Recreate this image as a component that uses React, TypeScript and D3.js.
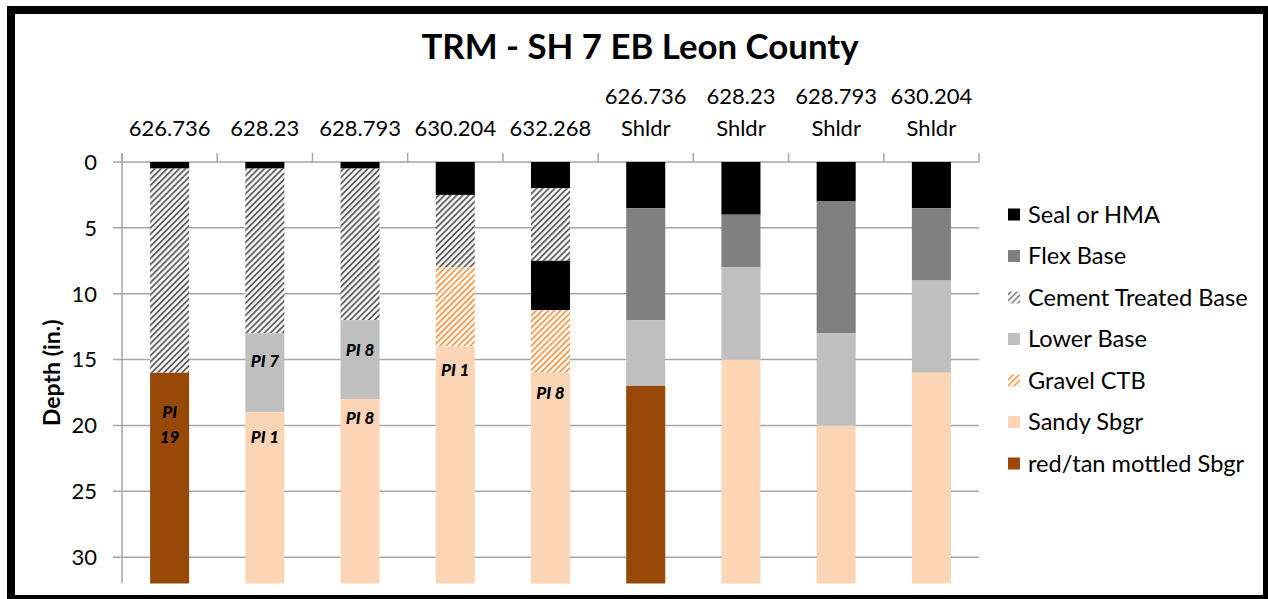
import React from "react";
import * as d3 from "d3";

// ---- data (depths in inches, thickness per layer, stacked from the surface down) ----
const categories = [
  "626.736",
  "628.23",
  "628.793",
  "630.204",
  "632.268",
  "626.736 Shldr",
  "628.23 Shldr",
  "628.793 Shldr",
  "630.204 Shldr",
];

const sealOrHMA = [0.5, 0.5, 0.5, 2.5, 2, 3.5, 4, 3, 3.5];
const flexBase = [0, 0, 0, 0, 0, 8.5, 4, 10, 5.5];
const cementTreatedBase = [15.5, 12.5, 11.5, 5.5, 5.5, 0, 0, 0, 0];
const sealOrHMA2 = [0, 0, 0, 0, 3.75, 0, 0, 0, 0];
const lowerBase = [0, 6, 6, 0, 0, 5, 7, 7, 7];
const gravelCTB = [0, 0, 0, 6, 4.75, 0, 0, 0, 0];
const sandySbgr = [0, 13, 14, 18, 16, 0, 17, 12, 16];
const redTanSbgr = [16, 0, 0, 0, 0, 15, 0, 0, 0];

const yTicks = [0, 5, 10, 15, 20, 25, 30];
const yMax = 32;

const legendNames = [
  "Seal or HMA",
  "Flex Base",
  "Cement Treated Base",
  "Lower Base",
  "Gravel CTB",
  "Sandy Sbgr",
  "red/tan mottled Sbgr",
];

// PI labels: category, text, depth (in.) of the text centre
const piCats = ["626.736", "626.736", "628.23", "628.23", "628.793", "628.793", "630.204", "632.268"];
const piTexts = ["PI", "19", "PI 7", "PI 1", "PI 8", "PI 8", "PI 1", "PI 8"];
const piDepths = [19.0, 20.85, 15.1, 20.85, 14.3, 19.45, 15.8, 17.5];

// ---- styles ----
const seriesKeys = ["seal", "flex", "ctb", "seal2", "lower", "gravel", "sandy", "redtan"];
const fills: Record<string, string> = {
  seal: "#000000",
  flex: "#808080",
  ctb: "url(#hatchGray)",
  seal2: "#000000",
  lower: "#bfbfbf",
  gravel: "url(#hatchOrange)",
  sandy: "#fbd5b5",
  redtan: "#984807",
};
const legendFills = [fills.seal, fills.flex, "url(#hatchGrayL)", fills.lower, "url(#hatchOrangeL)", fills.sandy, fills.redtan];

const FONT = "Lato, 'Open Sans', sans-serif";

export default function App() {
  const W = 1268;
  const H = 599;
  const plotLeft = 122;
  const plotRight = 979;
  const plotTop = 162;

  const x = d3
    .scaleBand<string>()
    .domain(categories)
    .range([plotLeft, plotRight])
    .paddingInner(0.59)
    .paddingOuter(0.295);
  const y = d3.scaleLinear().domain([0, yMax]).range([plotTop, 583.5]);
  const step = x.step();

  const rows = categories.map((c, i) => ({
    cat: c,
    seal: sealOrHMA[i],
    flex: flexBase[i],
    ctb: cementTreatedBase[i],
    seal2: sealOrHMA2[i],
    lower: lowerBase[i],
    gravel: gravelCTB[i],
    sandy: sandySbgr[i],
    redtan: redTanSbgr[i],
  }));
  const stacked = d3.stack<any>().keys(seriesKeys)(rows);

  const boundaries = d3.range(categories.length + 1).map((k) => plotLeft + k * step);

  const legendX = 1008;
  const legendY0 = 214.5;
  const legendDy = 41.5;

  return (
    <svg
      width={W}
      height={H}
      style={{ position: "absolute", left: 0, top: 0, background: "#fff" }}
      fontFamily={FONT}
    >
      <defs>
        <pattern id="hatchGray" width="4.3" height="4.3" patternUnits="userSpaceOnUse" patternTransform="rotate(45)">
          <rect width="4.3" height="4.3" fill="#fff" />
          <line x1="1" y1="0" x2="1" y2="4.3" stroke="#595959" strokeWidth="1.8" />
        </pattern>
        <pattern id="hatchOrange" width="4.3" height="4.3" patternUnits="userSpaceOnUse" patternTransform="rotate(45)">
          <rect width="4.3" height="4.3" fill="#fff" />
          <line x1="1" y1="0" x2="1" y2="4.3" stroke="#f79646" strokeWidth="1.8" />
        </pattern>
        <pattern id="hatchGrayL" width="4.3" height="4.3" patternUnits="userSpaceOnUse" patternTransform="rotate(45)">
          <rect width="4.3" height="4.3" fill="#fff" />
          <line x1="1" y1="0" x2="1" y2="4.3" stroke="#7f7f7f" strokeWidth="1.6" />
        </pattern>
        <pattern id="hatchOrangeL" width="4.3" height="4.3" patternUnits="userSpaceOnUse" patternTransform="rotate(45)">
          <rect width="4.3" height="4.3" fill="#fff" />
          <line x1="1" y1="0" x2="1" y2="4.3" stroke="#f79646" strokeWidth="1.6" />
        </pattern>
      </defs>

      <rect x={0} y={0} width={W} height={H} fill="#fff" />

      {/* title */}
      <text x={640} y={59} textAnchor="middle" fontSize={34.8} fontWeight={700} fill="#000">
        TRM - SH 7 EB Leon County
      </text>

      {/* category labels (top) */}
      {categories.map((c) => {
        const parts = c.split(" ");
        const cx = (x(c) as number) + x.bandwidth() / 2;
        return (
          <text key={c} x={cx} textAnchor="middle" fontSize={22} fill="#000">
            {parts.length > 1 ? (
              <>
                <tspan x={cx} y={103.5}>{parts[0]}</tspan>
                <tspan x={cx} y={135.5}>{parts[1]}</tspan>
              </>
            ) : (
              <tspan x={cx} y={135.5}>{parts[0]}</tspan>
            )}
          </text>
        );
      })}

      {/* gridlines */}
      {yTicks.map((t) => (
        <line key={t} x1={plotLeft - 9} x2={plotRight} y1={y(t)} y2={y(t)} stroke="#a6a6a6" strokeWidth={1.5} />
      ))}
      {/* y axis line */}
      <line x1={plotLeft} x2={plotLeft} y1={plotTop - 9} y2={y(yMax)} stroke="#a6a6a6" strokeWidth={1.5} />
      {/* category tick marks */}
      {boundaries.map((b, k) => (
        <line key={k} x1={b} x2={b} y1={plotTop - 9} y2={plotTop} stroke="#a6a6a6" strokeWidth={1.5} />
      ))}

      {/* y tick labels */}
      {yTicks.map((t) => (
        <text key={t} x={97} y={y(t)} dy="0.36em" textAnchor="end" fontSize={22} fill="#000">
          {t}
        </text>
      ))}

      {/* y axis title */}
      <text
        transform={`translate(60, ${(plotTop + y(yMax)) / 2}) rotate(-90)`}
        textAnchor="middle"
        fontSize={23}
        fontWeight={700}
        fill="#000"
      >
        Depth (in.)
      </text>

      {/* bars */}
      {stacked.map((s) => (
        <g key={s.key} fill={fills[s.key]}>
          {s.map((d: any) =>
            d[1] - d[0] > 0 ? (
              <rect
                key={d.data.cat}
                x={x(d.data.cat)}
                width={x.bandwidth()}
                y={y(d[0])}
                height={y(d[1]) - y(d[0])}
              />
            ) : null
          )}
        </g>
      ))}

      {/* PI labels */}
      {piTexts.map((t, i) => (
        <text
          key={i}
          x={(x(piCats[i]) as number) + x.bandwidth() / 2}
          y={y(piDepths[i])}
          dy="0.36em"
          textAnchor="middle"
          fontSize={17}
          fontWeight={900}
          fontStyle="italic"
          fill="#000"
        >
          {t}
        </text>
      ))}

      {/* legend */}
      {legendNames.map((n, i) => {
        const cy = legendY0 + i * legendDy;
        return (
          <g key={n}>
            <rect x={legendX} y={cy - 6} width={12} height={12} fill={legendFills[i]} />
            <text x={legendX + 20} y={cy} dy="0.36em" fontSize={23.6} fill="#000">
              {n}
            </text>
          </g>
        );
      })}

      {/* frame */}
      <rect x={11} y={10} width={1256} height={589} fill="none" stroke="#000" strokeWidth={8} />
    </svg>
  );
}
